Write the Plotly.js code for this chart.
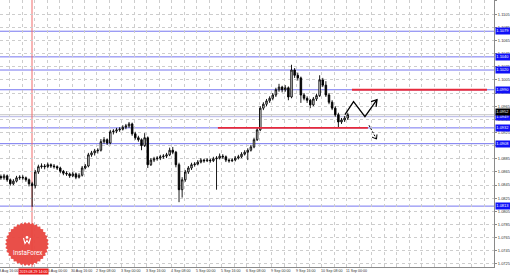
<!DOCTYPE html>
<html><head><meta charset="utf-8">
<script src="https://cdn.plot.ly/plotly-3.0.1.min.js"></script>
<style>html,body{margin:0;padding:0;background:#fff;}#chart{width:510px;height:275px;}</style>
</head><body><div id="chart"></div>
<script>
// ---- data (2-hour candles, H1 bar index from 28 Aug 2019 16:00, weekends skipped)
const firstCandleBar = 2.5;
const barsPerCandle = 2;
const opens = [1.0858,1.0856,1.0859,1.0853,1.0847,1.0851,1.0856,1.0857,1.0856,1.0853,
1.0847,1.0844,1.0865,1.0873,1.0874,1.0873,1.0876,1.0874,1.0873,1.0871,
1.0866,1.0863,1.0862,1.0859,1.0862,1.0857,1.0860,1.0871,1.0874,1.0891,
1.0894,1.0897,1.0898,1.0911,1.0914,1.0909,1.0926,1.0927,1.0929,1.0930,
1.0933,1.0935,1.0938,1.0923,1.0917,1.0914,1.0905,1.0917,1.0876,1.0883,
1.0885,1.0886,1.0888,1.0889,1.0891,1.0898,1.0895,1.0876,1.0838,1.0853,
1.0865,1.0871,1.0876,1.0877,1.0880,1.0883,1.0882,1.0883,1.0882,1.0885,
1.0886,1.0889,1.0888,1.0883,1.0882,1.0883,1.0886,1.0888,1.0892,1.0895,
1.0898,1.0903,1.0914,1.0929,1.0962,1.0968,1.0973,1.0977,1.0982,1.0990,
1.0994,1.0990,1.0993,1.0979,1.1020,1.1012,1.1008,1.0982,1.0977,1.0974,
1.0967,1.0976,1.0981,1.1005,1.0997,1.0982,1.0971,1.0962,1.0952,1.0941,
1.0944,1.0947];
const highs = [1.0861,1.0862,1.0861,1.0855,1.0854,1.0859,1.0860,1.0860,1.0858,1.0855,
1.0850,1.0868,1.0876,1.0878,1.0877,1.0879,1.0878,1.0877,1.0875,1.0873,
1.0868,1.0866,1.0864,1.0865,1.0864,1.0863,1.0874,1.0877,1.0894,1.0897,
1.0900,1.0901,1.0915,1.0918,1.0916,1.0929,1.0930,1.0932,1.0933,1.0936,
1.0938,1.0941,1.0940,1.0926,1.0920,1.0916,1.0924,1.0919,1.0886,1.0888,
1.0889,1.0891,1.0892,1.0894,1.0902,1.0903,1.0897,1.0879,1.0857,1.0868,
1.0874,1.0879,1.0880,1.0883,1.0886,1.0885,1.0886,1.0885,1.0888,1.0889,
1.0893,1.0892,1.0890,1.0885,1.0886,1.0889,1.0891,1.0895,1.0898,1.0901,
1.0906,1.0917,1.0932,1.0965,1.0971,1.0976,1.0980,1.0985,1.0993,1.0999,
1.0996,1.0997,1.0995,1.1028,1.1023,1.1016,1.1010,1.0985,1.0980,1.0976,
1.0979,1.0984,1.1012,1.1008,1.1003,1.0985,1.0974,1.0965,1.0955,1.0947,
1.0950,1.0955];
const lows = [1.0853,1.0853,1.0850,1.0844,1.0845,1.0849,1.0853,1.0853,1.0850,1.0843,
1.0812,1.0840,1.0862,1.0870,1.0869,1.0871,1.0871,1.0870,1.0868,1.0863,
1.0860,1.0859,1.0856,1.0857,1.0854,1.0855,1.0858,1.0869,1.0872,1.0888,
1.0890,1.0893,1.0896,1.0908,1.0906,1.0907,1.0922,1.0924,1.0926,1.0928,
1.0930,1.0932,1.0920,1.0914,1.0911,1.0898,1.0903,1.0871,1.0874,1.0880,
1.0882,1.0883,1.0885,1.0886,1.0889,1.0892,1.0872,1.0819,1.0826,1.0850,
1.0862,1.0868,1.0873,1.0875,1.0878,1.0879,1.0880,1.0879,1.0880,1.0838,
1.0884,1.0885,1.0880,1.0879,1.0880,1.0881,1.0884,1.0886,1.0890,1.0883,
1.0896,1.0901,1.0912,1.0927,1.0959,1.0965,1.0970,1.0974,1.0979,1.0987,
1.0986,1.0987,1.0974,1.0977,1.1008,1.1004,1.0970,1.0974,1.0970,1.0962,
1.0965,1.0973,1.0979,1.0994,1.0979,1.0968,1.0959,1.0949,1.0932,1.0938,
1.0941,1.0944];
const closes = [1.0856,1.0859,1.0853,1.0847,1.0851,1.0856,1.0857,1.0856,1.0853,1.0847,
1.0844,1.0865,1.0873,1.0874,1.0873,1.0876,1.0874,1.0873,1.0871,1.0866,
1.0863,1.0862,1.0859,1.0862,1.0857,1.0860,1.0871,1.0874,1.0891,1.0894,
1.0897,1.0898,1.0911,1.0914,1.0909,1.0926,1.0927,1.0929,1.0930,1.0933,
1.0935,1.0938,1.0923,1.0917,1.0914,1.0905,1.0917,1.0876,1.0883,1.0885,
1.0886,1.0888,1.0889,1.0891,1.0898,1.0895,1.0876,1.0838,1.0853,1.0865,
1.0871,1.0876,1.0877,1.0880,1.0883,1.0882,1.0883,1.0882,1.0885,1.0886,
1.0889,1.0888,1.0883,1.0882,1.0883,1.0886,1.0888,1.0892,1.0895,1.0898,
1.0903,1.0914,1.0929,1.0962,1.0968,1.0973,1.0977,1.0982,1.0990,1.0994,
1.0990,1.0993,1.0979,1.1020,1.1012,1.1008,1.0982,1.0977,1.0974,1.0967,
1.0976,1.0981,1.1005,1.0997,1.0982,1.0971,1.0962,1.0952,1.0941,1.0944,
1.0947,1.0952];

// time axis labels every 16 H1 bars
const timeLabels = ["28 Aug 16:00","29 Aug 08:00","30 Aug 00:00","30 Aug 16:00","2 Sep 08:00",
"3 Sep 00:00","3 Sep 16:00","4 Sep 08:00","5 Sep 00:00","5 Sep 16:00","6 Sep 08:00",
"9 Sep 00:00","9 Sep 16:00","10 Sep 08:00","11 Sep 00:00"];
const barsPerLabel = 16;

// price ticks
const yTicks = [1.0725,1.0745,1.0765,1.0785,1.0805,1.0825,1.0845,1.0865,1.0885,1.0905,
1.0925,1.0945,1.0965,1.0985,1.1005,1.1025,1.1045,1.1065,1.1085,1.1105,1.1125];

// horizontal levels
const blueLevels = [1.1079,1.1040,1.1020,1.0990,1.0932,1.0908,1.0813];
const askLevel = 1.0949;
const bidLevel = 1.0952;
// red support/resistance segments
const redLevels = [1.0990, 1.0932];
const redFromBar = [227.2, 141.4];
const redToBar = [313.6, 237.4];
// vertical time marker
const markerBar = 22.4;
const markerLabel = "2019.08.29 14:00";
// forecast arrows
const upPathBars = [222.7,228.2,235.5,243.2];
const upPathPrices = [1.0952,1.0972,1.0949,1.0975];
const upHeadBars = [239.4,243.2,242.6];
const upHeadPrices = [1.0972,1.0975,1.0964];
const downPathBars = [238.1,242.9];
const downPathPrices = [1.0936,1.0915];
const downHeadBars = [240.0,242.9,243.2];
const downHeadPrices = [1.0918,1.0915,1.0922];

// ---- build
const xs = opens.map((_,i)=>firstCandleBar + i*barsPerCandle);
const W=510,H=275,ML=0,MR=16,MT=0,MB=8;
const PW=W-ML-MR, PH=H-MT-MB;
const X0=1.92, X1=318.1;
const FONT = "Liberation Sans, Arial, sans-serif";

const traces = [
 {type:'candlestick', x:xs, open:opens, high:highs, low:lows, close:closes,
  increasing:{line:{color:'#000',width:0.9}, fillcolor:'#ffffff'},
  decreasing:{line:{color:'#000',width:0.9}, fillcolor:'#000000'},
  whiskerwidth:0, hoverinfo:'skip', showlegend:false},
 {type:'scatter', mode:'lines', x:upPathBars, y:upPathPrices, line:{color:'#000',width:1.3}, hoverinfo:'skip', showlegend:false},
 {type:'scatter', mode:'lines', x:upHeadBars, y:upHeadPrices, line:{color:'#000',width:1.3}, hoverinfo:'skip', showlegend:false},
 {type:'scatter', mode:'lines', x:downPathBars, y:downPathPrices, line:{color:'#000',width:1,dash:'2px,1.5px'}, hoverinfo:'skip', showlegend:false},
 {type:'scatter', mode:'lines', x:downHeadBars, y:downHeadPrices, line:{color:'#000',width:1}, hoverinfo:'skip', showlegend:false}
];

// x grid every 8 bars
const xTickVals=[];
for(let b=0;b<=320;b+=barsPerLabel/2) xTickVals.push(b);

const shapes = [];
blueLevels.forEach(p=>shapes.push({type:'line',xref:'paper',x0:0,x1:1,yref:'y',y0:p,y1:p,line:{color:'#7676f0',width:1},layer:'below'}));
shapes.push({type:'line',xref:'paper',x0:0,x1:1,yref:'y',y0:bidLevel,y1:bidLevel,line:{color:'#c4c4c4',width:1},layer:'below'});
shapes.push({type:'line',xref:'paper',x0:0,x1:1,yref:'y',y0:askLevel,y1:askLevel,line:{color:'#b4b4e6',width:1},layer:'below'});
shapes.push({type:'line',xref:'x',x0:markerBar,x1:markerBar,yref:'paper',y0:0,y1:1,line:{color:'#f06a6a',width:1},layer:'below'});
redLevels.forEach((p,i)=>shapes.push({type:'line',xref:'x',x0:redFromBar[i],x1:redToBar[i],yref:'y',y0:p,y1:p,line:{color:'#e62a3c',width:1.8},layer:'above'}));

// logo (starburst) in paper coords
const cx=27, cy=244, n=34, rOut=22, rIn=20.2;
let d='';
for(let i=0;i<2*n;i++){
  const r = i%2===0 ? rOut : rIn;
  const a = Math.PI*i/n;
  const px = cx + r*Math.cos(a), py = cy + r*Math.sin(a);
  const X = (px-ML)/PW, Y = (H-MB-py)/PH;
  d += (i===0?'M':'L') + X.toFixed(5)+','+Y.toFixed(5);
}
d+='Z';
shapes.push({type:'path',xref:'paper',yref:'paper',path:d,fillcolor:'#e8463f',line:{width:0},layer:'above',opacity:0.95});
function P(px,py){return ((px-ML)/PW).toFixed(5)+','+((H-MB-py)/PH).toFixed(5);}
shapes.push({type:'circle',xref:'paper',yref:'paper',x0:(25.6)/PW,x1:(28.4)/PW,y0:(H-MB-238.8)/PH,y1:(H-MB-236)/PH,fillcolor:'#fff',line:{width:0},layer:'above'});
shapes.push({type:'path',xref:'paper',yref:'paper',path:'M'+P(23.5,238)+' L'+P(25,243.5)+' L'+P(27,240.5)+' L'+P(29,243.5)+' L'+P(30.5,238),line:{color:'#fff',width:1.1},layer:'above'});

const annotations = [];
// time labels (left-aligned at their gridline, MT4 style); placed in paper units so the
// first one, whose gridline lies just left of the view, still shows its clipped tail
timeLabels.forEach((t,k)=>{
  if(k===1) return; // hidden behind the red time marker label in the reference
  const bar = k*barsPerLabel;
  annotations.push({xref:'paper',x:(bar-X0)/(X1-X0),xanchor:'left',xshift:-1.5,yref:'paper',y:0,yanchor:'top',yshift:-0.6,
    text:t,showarrow:false,borderpad:0,font:{family:FONT,size:3.6,color:'#333'}});
});
blueLevels.concat([askLevel]).forEach(p=>annotations.push({xref:'paper',x:1,xanchor:'left',xshift:0.5,yref:'y',y:p,yanchor:'middle',text:p.toFixed(4),showarrow:false,bgcolor:'#1010f8',borderpad:0.3,font:{family:FONT,size:4,color:'#fff'}}));
annotations.push({xref:'paper',x:1,xanchor:'left',xshift:0.5,yref:'y',y:bidLevel,yanchor:'bottom',yshift:-1.5,text:bidLevel.toFixed(4),showarrow:false,bgcolor:'#000',borderpad:0.3,font:{family:FONT,size:4,color:'#fff'}});
annotations.push({xref:'x',x:markerBar,xanchor:'center',xshift:1.5,yref:'paper',y:0,yanchor:'top',yshift:-0.6,text:markerLabel,showarrow:false,bgcolor:'#e81e1e',borderpad:0.5,font:{family:FONT,size:3.6,color:'#fff'}});
annotations.push({xref:'paper',x:cx/PW,xanchor:'center',yref:'paper',y:(H-MB-253)/PH,yanchor:'middle',text:'InstaForex',showarrow:false,font:{family:'Roboto, sans-serif',size:6.3,color:'#fff'}});

const layout = {
  width:W, height:H, margin:{l:ML,r:MR,t:MT,b:MB,pad:0},
  paper_bgcolor:'#fff', plot_bgcolor:'#fff', showlegend:false,
  xaxis:{range:[X0,X1], tickmode:'array', tickvals:xTickVals, showticklabels:false,
    ticks:'', showgrid:true, gridcolor:'#cdcdcd', griddash:'dot', gridwidth:1,
    showline:true, linecolor:'#8a8a8a', linewidth:1, zeroline:false, rangeslider:{visible:false}, fixedrange:true},
  yaxis:{side:'right', range:[1.07204,1.11265], tickmode:'array', tickvals:yTicks, ticktext:yTicks.map(v=>v.toFixed(4)),
    ticks:'outside', ticklen:2, tickcolor:'#8a8a8a', showgrid:true, gridcolor:'#cdcdcd', griddash:'dot', gridwidth:1,
    showline:true, linecolor:'#8a8a8a', linewidth:1, zeroline:false,
    tickfont:{family:FONT,size:4,color:'#333'}, fixedrange:true},
  shapes:shapes, annotations:annotations
};
Plotly.newPlot('chart', traces, layout, {staticPlot:true, displayModeBar:false});
</script></body></html>
